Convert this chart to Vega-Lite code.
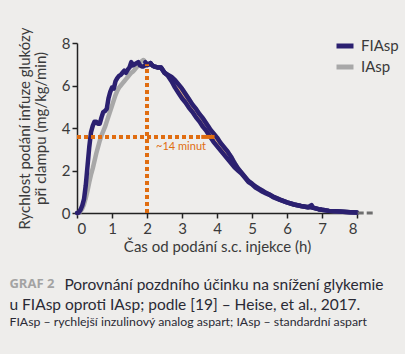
{
  "$schema": "https://vega.github.io/schema/vega-lite/v6.json",
  "width": 280,
  "height": 170,
  "autosize": {"type": "none"},
  "padding": {"left": 77, "top": 43, "right": 48, "bottom": 141},
  "background": "#eeedeb",
  "config": {
    "view": {"stroke": null},
    "font": "Lato",
    "axis": {"grid": false, "domainColor": "#222222", "tickColor": "#222222", "labelColor": "#3a3a3a", "titleColor": "#3a3a3a", "labelFont": "Lato", "titleFont": "Lato", "labelFontSize": 15, "titleFontSize": 15, "titleFontWeight": "normal", "domainWidth": 1.5, "tickWidth": 1.5, "tickSize": 5, "labelOverlap": false}
  },
  "datasets": {
    "curves": [
      {"t": 0.00, "FIAsp": 0, "IAsp": 0},
      {"t": 0.05, "FIAsp": 0.02, "IAsp": 0},
      {"t": 0.10, "FIAsp": 0.15, "IAsp": 0.08},
      {"t": 0.15, "FIAsp": 0.35, "IAsp": 0.2},
      {"t": 0.20, "FIAsp": 0.65, "IAsp": 0.4},
      {"t": 0.25, "FIAsp": 1.3, "IAsp": 0.7},
      {"t": 0.30, "FIAsp": 2.2, "IAsp": 1.05},
      {"t": 0.35, "FIAsp": 3.1, "IAsp": 1.45},
      {"t": 0.40, "FIAsp": 3.8, "IAsp": 1.8},
      {"t": 0.45, "FIAsp": 4.1, "IAsp": 2.1},
      {"t": 0.50, "FIAsp": 4.3, "IAsp": 2.45},
      {"t": 0.55, "FIAsp": 4.3, "IAsp": 2.8},
      {"t": 0.60, "FIAsp": 4.2, "IAsp": 3.1},
      {"t": 0.65, "FIAsp": 4.2, "IAsp": 3.4},
      {"t": 0.70, "FIAsp": 4.5, "IAsp": 3.65},
      {"t": 0.75, "FIAsp": 4.75, "IAsp": 3.85},
      {"t": 0.80, "FIAsp": 4.8, "IAsp": 4.05},
      {"t": 0.85, "FIAsp": 4.9, "IAsp": 4.3},
      {"t": 0.90, "FIAsp": 5.4, "IAsp": 4.55},
      {"t": 0.95, "FIAsp": 5.7, "IAsp": 4.8},
      {"t": 1.00, "FIAsp": 5.9, "IAsp": 5.05},
      {"t": 1.05, "FIAsp": 5.85, "IAsp": 5.3},
      {"t": 1.10, "FIAsp": 6.2, "IAsp": 5.55},
      {"t": 1.15, "FIAsp": 6.35, "IAsp": 5.75},
      {"t": 1.20, "FIAsp": 6.45, "IAsp": 5.9},
      {"t": 1.25, "FIAsp": 6.5, "IAsp": 6.0},
      {"t": 1.30, "FIAsp": 6.6, "IAsp": 6.1},
      {"t": 1.35, "FIAsp": 6.7, "IAsp": 6.2},
      {"t": 1.40, "FIAsp": 6.6, "IAsp": 6.3},
      {"t": 1.45, "FIAsp": 6.75, "IAsp": 6.4},
      {"t": 1.50, "FIAsp": 6.85, "IAsp": 6.5},
      {"t": 1.55, "FIAsp": 7.1, "IAsp": 6.6},
      {"t": 1.60, "FIAsp": 6.95, "IAsp": 6.65},
      {"t": 1.65, "FIAsp": 7.0, "IAsp": 6.75},
      {"t": 1.70, "FIAsp": 7.05, "IAsp": 6.85},
      {"t": 1.75, "FIAsp": 7.1, "IAsp": 6.95},
      {"t": 1.80, "FIAsp": 6.95, "IAsp": 7.05},
      {"t": 1.85, "FIAsp": 6.9, "IAsp": 7.15},
      {"t": 1.90, "FIAsp": 6.9, "IAsp": 7.2},
      {"t": 1.95, "FIAsp": 6.95, "IAsp": 7.1},
      {"t": 2.00, "FIAsp": 6.95, "IAsp": 7.0},
      {"t": 2.05, "FIAsp": 7.0, "IAsp": 7.0},
      {"t": 2.10, "FIAsp": 7.05, "IAsp": 7.05},
      {"t": 2.15, "FIAsp": 6.95, "IAsp": 6.95},
      {"t": 2.20, "FIAsp": 6.9, "IAsp": 6.9},
      {"t": 2.30, "FIAsp": 6.85, "IAsp": 6.85},
      {"t": 2.40, "FIAsp": 6.85, "IAsp": 6.85},
      {"t": 2.50, "FIAsp": 6.6, "IAsp": 6.6},
      {"t": 2.60, "FIAsp": 6.45, "IAsp": 6.5},
      {"t": 2.70, "FIAsp": 6.2, "IAsp": 6.4},
      {"t": 2.80, "FIAsp": 5.9, "IAsp": 6.25},
      {"t": 2.90, "FIAsp": 5.65, "IAsp": 6.05},
      {"t": 3.00, "FIAsp": 5.4, "IAsp": 5.85},
      {"t": 3.10, "FIAsp": 5.2, "IAsp": 5.6},
      {"t": 3.20, "FIAsp": 4.95, "IAsp": 5.35},
      {"t": 3.30, "FIAsp": 4.75, "IAsp": 5.1},
      {"t": 3.40, "FIAsp": 4.5, "IAsp": 4.9},
      {"t": 3.50, "FIAsp": 4.3, "IAsp": 4.65},
      {"t": 3.60, "FIAsp": 4.05, "IAsp": 4.45},
      {"t": 3.70, "FIAsp": 3.85, "IAsp": 4.2},
      {"t": 3.80, "FIAsp": 3.6, "IAsp": 3.95},
      {"t": 3.90, "FIAsp": 3.35, "IAsp": 3.75},
      {"t": 4.00, "FIAsp": 3.15, "IAsp": 3.55},
      {"t": 4.10, "FIAsp": 2.95, "IAsp": 3.3},
      {"t": 4.20, "FIAsp": 2.75, "IAsp": 3.1},
      {"t": 4.30, "FIAsp": 2.55, "IAsp": 2.9},
      {"t": 4.40, "FIAsp": 2.35, "IAsp": 2.65},
      {"t": 4.50, "FIAsp": 2.15, "IAsp": 2.35},
      {"t": 4.60, "FIAsp": 2.0, "IAsp": 2.1},
      {"t": 4.70, "FIAsp": 1.85, "IAsp": 1.9},
      {"t": 4.80, "FIAsp": 1.65, "IAsp": 1.7},
      {"t": 4.90, "FIAsp": 1.45, "IAsp": 1.5},
      {"t": 5.00, "FIAsp": 1.35, "IAsp": 1.38},
      {"t": 5.10, "FIAsp": 1.2, "IAsp": 1.25},
      {"t": 5.20, "FIAsp": 1.1, "IAsp": 1.15},
      {"t": 5.30, "FIAsp": 1.0, "IAsp": 1.05},
      {"t": 5.40, "FIAsp": 0.92, "IAsp": 0.95},
      {"t": 5.50, "FIAsp": 0.85, "IAsp": 0.87},
      {"t": 5.60, "FIAsp": 0.75, "IAsp": 0.78},
      {"t": 5.80, "FIAsp": 0.62, "IAsp": 0.63},
      {"t": 6.00, "FIAsp": 0.5, "IAsp": 0.5},
      {"t": 6.20, "FIAsp": 0.4, "IAsp": 0.4},
      {"t": 6.40, "FIAsp": 0.33, "IAsp": 0.33},
      {"t": 6.60, "FIAsp": 0.27, "IAsp": 0.27},
      {"t": 6.70, "FIAsp": 0.37, "IAsp": 0.27},
      {"t": 6.75, "FIAsp": 0.25, "IAsp": 0.24},
      {"t": 6.90, "FIAsp": 0.18, "IAsp": 0.18},
      {"t": 7.00, "FIAsp": 0.15, "IAsp": 0.15},
      {"t": 7.20, "FIAsp": 0.1, "IAsp": 0.1},
      {"t": 7.50, "FIAsp": 0.07, "IAsp": 0.07},
      {"t": 7.80, "FIAsp": 0.04, "IAsp": 0.04},
      {"t": 8.00, "FIAsp": 0.02, "IAsp": 0.02}
    ]
  },
  "encoding": {
    "x": {"field": "t", "type": "quantitative", "scale": {"domain": [0, 8], "nice": false},
      "axis": {"values": [0,1,2,3,4,5,6,7,8], "tickCount": 9, "title": "Čas od podání s.c. injekce (h)", "labelPadding": 3, "titlePadding": 3}},
    "y": {"field": "FIAsp", "type": "quantitative", "scale": {"domain": [0, 8], "nice": false},
      "axis": {"values": [0,2,4,6,8], "title": ["Rychlost podání infuze glukózy", "při clampu (mg/kg/min)"], "labelPadding": 2, "titleX": -53, "titleY": 85, "titleAngle": -90, "titleAlign": "center", "titleBaseline": "middle", "titleLineHeight": 16}}
  },
  "layer": [
    {
      "data": {"name": "curves"},
      "transform": [{"filter": "datum.t >= 2.55 && datum.t <= 4.65"}],
      "mark": {"type": "area", "color": "#f5b77c", "opacity": 1},
      "encoding": {
        "y2": {"field": "IAsp"}
      }
    },
    {
      "data": {"name": "curves"},
      "mark": {"type": "line", "strokeWidth": 4.5, "strokeJoin": "round", "strokeCap": "round"},
      "encoding": {
        "y": {"field": "IAsp", "type": "quantitative"},
        "color": {"datum": "IAsp", "type": "nominal",
          "scale": {"domain": ["FIAsp", "IAsp"], "range": ["#2b2070", "#a8a8a8"]},
          "legend": {"title": null, "orient": "none", "legendX": 257, "legendY": -8, "symbolType": "stroke", "symbolStrokeWidth": 5, "symbolSize": 289, "labelFontSize": 15, "labelFont": "Lato", "labelColor": "#3a3a3a", "labelOffset": 5, "rowPadding": 0, "padding": 0}}
      }
    },
    {
      "data": {"name": "curves"},
      "transform": [{"filter": "datum.t >= 1.95"}],
      "mark": {"type": "line", "strokeWidth": 4.5, "strokeJoin": "round", "strokeCap": "round", "color": "#2b2070"},
      "encoding": {"y": {"field": "IAsp", "type": "quantitative"}}
    },
    {
      "data": {"name": "curves"},
      "mark": {"type": "line", "strokeWidth": 4.5, "strokeJoin": "round", "strokeCap": "round"},
      "encoding": {
        "color": {"datum": "FIAsp", "type": "nominal"}
      }
    },
    {
      "data": {"values": [{"x": 2, "y": 0, "y2": 7.0}]},
      "mark": {"type": "rule", "color": "#e06d10", "strokeWidth": 4, "strokeDash": [4, 3]},
      "encoding": {"x": {"field": "x", "type": "quantitative"}, "y": {"field": "y", "type": "quantitative"}, "y2": {"field": "y2"}}
    },
    {
      "data": {"values": [{"x": 0, "x2": 3.55, "y": 3.58}]},
      "mark": {"type": "rule", "color": "#e06d10", "strokeWidth": 4, "strokeDash": [4, 3]},
      "encoding": {"x": {"field": "x", "type": "quantitative"}, "x2": {"field": "x2"}, "y": {"field": "y", "type": "quantitative"}}
    },
    {
      "data": {"values": [{"x": 3.55, "x2": 3.93, "y": 3.58}]},
      "mark": {"type": "rule", "color": "#e06d10", "strokeWidth": 4},
      "encoding": {"x": {"field": "x", "type": "quantitative"}, "x2": {"field": "x2"}, "y": {"field": "y", "type": "quantitative"}}
    },
    {
      "data": {"values": [{"x": 8.02, "x2": 8.5, "y": 0}]},
      "mark": {"type": "rule", "color": "#6e6e6e", "strokeWidth": 3, "strokeDash": [6, 3]},
      "encoding": {"x": {"field": "x", "type": "quantitative"}, "x2": {"field": "x2"}, "y": {"field": "y", "type": "quantitative"}}
    },
    {
      "data": {"values": [{"label": "~14 minut", "x": 2.26, "y": 3.12}]},
      "mark": {"type": "text", "color": "#e06d10", "fontSize": 11, "font": "Lato", "align": "left", "baseline": "middle"},
      "encoding": {"x": {"field": "x", "type": "quantitative"}, "y": {"field": "y", "type": "quantitative"}, "text": {"field": "label"}}
    },
    {
      "data": {"values": [{"label": "GRAF 2", "x": -1.93, "y": -3.33}]},
      "mark": {"type": "text", "color": "#a3a3a3", "fontSize": 13, "fontWeight": "bold", "font": "Open Sans", "align": "left", "baseline": "middle"},
      "encoding": {"x": {"field": "x", "type": "quantitative"}, "y": {"field": "y", "type": "quantitative"}, "text": {"field": "label"}}
    },
    {
      "data": {"values": [
        {"label": "Porovnání pozdního účinku na snížení glykemie", "x": -0.36, "y": -3.38},
        {"label": "u FIAsp oproti IAsp; podle [19] – Heise, et al., 2017.", "x": -1.93, "y": -4.32}
      ]},
      "mark": {"type": "text", "color": "#2a2a35", "fontSize": 15.5, "font": "Lato", "align": "left", "baseline": "middle"},
      "encoding": {"x": {"field": "x", "type": "quantitative"}, "y": {"field": "y", "type": "quantitative"}, "text": {"field": "label"}}
    },
    {
      "data": {"values": [{"label": "FIAsp – rychlejší inzulinový analog aspart; IAsp – standardní aspart", "x": -1.93, "y": -5.14}]},
      "mark": {"type": "text", "color": "#2a2a35", "fontSize": 12.3, "font": "Lato", "align": "left", "baseline": "middle"},
      "encoding": {"x": {"field": "x", "type": "quantitative"}, "y": {"field": "y", "type": "quantitative"}, "text": {"field": "label"}}
    }
  ]
}
